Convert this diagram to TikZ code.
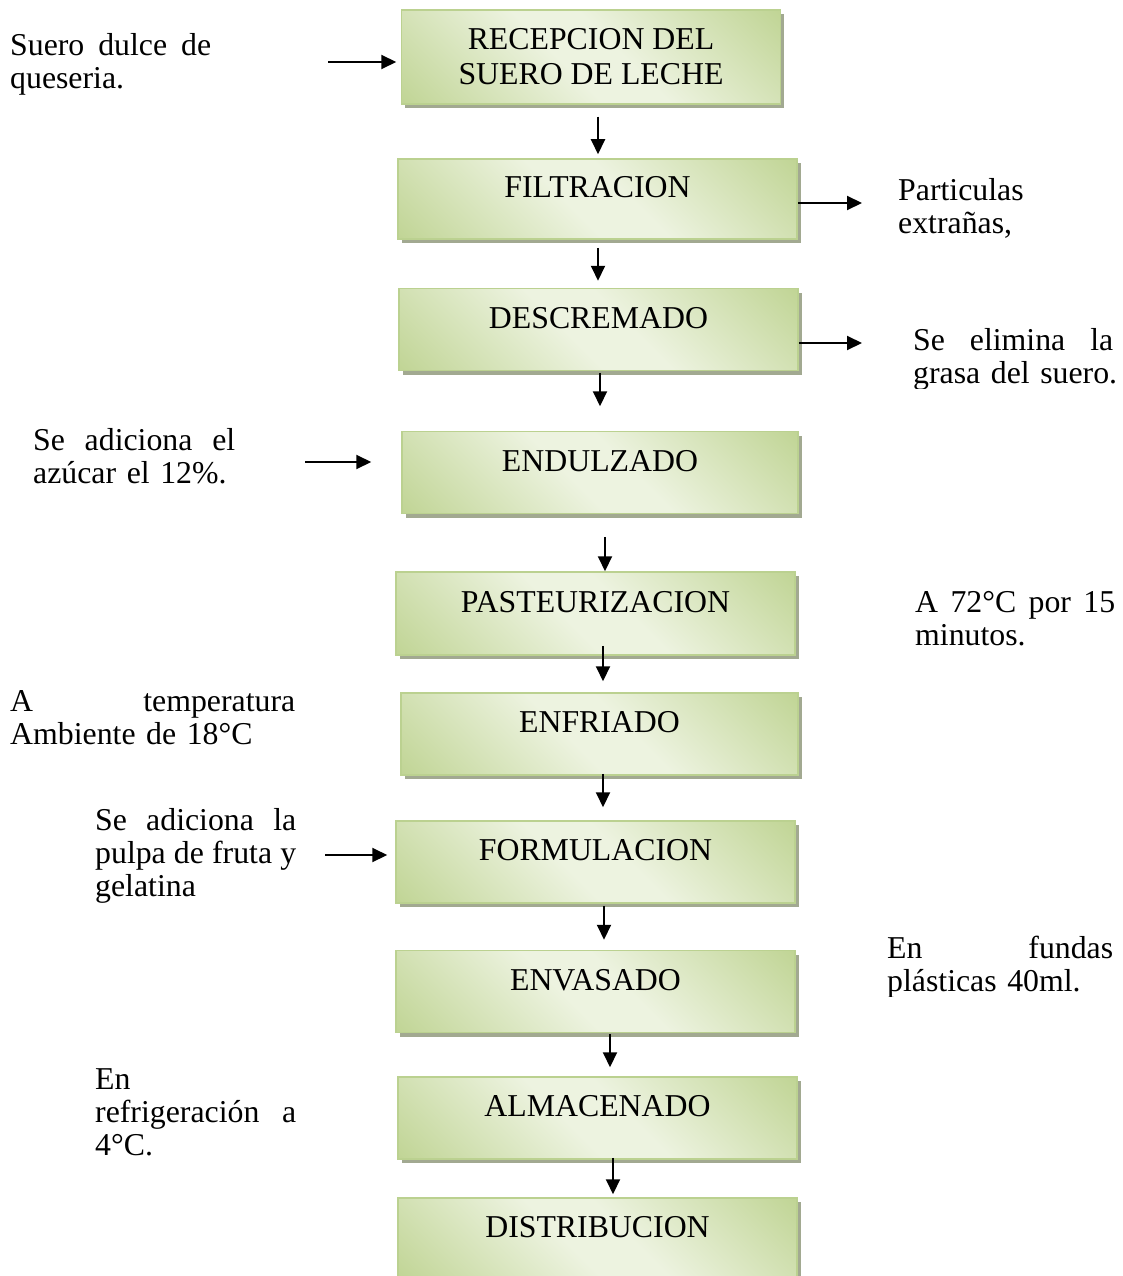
\documentclass[tikz,border=0pt]{standalone}
\usepackage{fontspec}
\setmainfont{Liberation Serif}
\usetikzlibrary{arrows.meta,shadows}

\definecolor{boxdark}{HTML}{C1D596}
\definecolor{boxlight}{HTML}{EDF3E0}
\definecolor{boxline}{HTML}{BBD190}
\definecolor{boxshadow}{HTML}{A2A991}
\pgfdeclarehorizontalshading{greenstep}{100bp}{color(0bp)=(boxdark); color(15bp)=(boxdark); color(45bp)=(boxlight); color(55bp)=(boxlight); color(85bp)=(boxdark); color(100bp)=(boxdark)}

\tikzset{
  stepbox/.style={draw=boxline, line width=1.5pt, shading=greenstep, shading angle=45,
    drop shadow={shadow xshift=3.5pt, shadow yshift=-4pt, fill=boxshadow, opacity=1},
    minimum width=399pt, minimum height=82pt, align=center, inner sep=0pt,
    font=\fontsize{31.8}{35}\selectfont},
  stepone/.style={stepbox, text height=21pt, text depth=24pt},
  flow/.style={-{Triangle[length=15pt,width=14pt]}, line width=2pt},
  note/.style={anchor=north west, inner sep=0pt, align=left, font=\fontsize{31.8}{33}\selectfont}
}

\begin{document}
\begin{tikzpicture}[x=1pt,y=-1pt]
\useasboundingbox (0,0) rectangle (1122,1276);
% process steps
\node[stepbox, minimum width=379pt, minimum height=94pt] (recep) at (591,57) {RECEPCION DEL\\SUERO DE LECHE};
\node[stepone, minimum height=80pt] (filtr) at (597.5,199) {FILTRACION};
\node[stepone] (desc) at (598.5,329.5) {DESCREMADO};
\node[stepone, minimum width=396pt] (endul) at (600,472.5) {ENDULZADO};
\node[stepone, minimum height=83pt] (past) at (595.5,613.5) {PASTEURIZACION};
\node[stepone, minimum width=397pt] (enfri) at (599.5,734) {ENFRIADO};
\node[stepone] (formu) at (595.5,862) {FORMULACION};
\node[stepone] (envas) at (595.5,991.5) {ENVASADO};
\node[stepone] (almac) at (597.5,1118) {ALMACENADO};
\node[stepone] (distr) at (597.5,1239) {DISTRIBUCION};

% flow down
\draw[flow] ([xshift=7pt,yshift=-12pt]recep.south) -- ([xshift=.5pt,yshift=4pt]filtr.north);
\draw[flow] ([xshift=.5pt,yshift=-8pt]filtr.south) -- ([xshift=-.5pt,yshift=7pt]desc.north);
\draw[flow] ([xshift=1.5pt,yshift=-1.5pt]desc.south) -- ([yshift=24.5pt]endul.north);
\draw[flow] ([xshift=5pt,yshift=-22.5pt]endul.south) -- ([xshift=9.5pt]past.north);
\draw[flow] ([xshift=7.5pt,yshift=10pt]past.south) -- ([xshift=3.5pt,yshift=11pt]enfri.north);
\draw[flow] ([xshift=3.5pt,yshift=2pt]enfri.south) -- ([xshift=7.5pt,yshift=13pt]formu.north);
\draw[flow] ([xshift=8.5pt,yshift=-2pt]formu.south) -- ([xshift=8.5pt,yshift=10pt]envas.north);
\draw[flow] ([xshift=14.5pt,yshift=-1pt]envas.south) -- ([xshift=12.5pt,yshift=9pt]almac.north);
\draw[flow] ([xshift=15.5pt,yshift=2pt]almac.south) -- ([xshift=15.5pt,yshift=3pt]distr.north);

% inputs and outputs
\coordinate (in1) at (328,62);
\coordinate (out2) at (862,203);
\coordinate (out3) at (862,343);
\coordinate (in4) at (305,462);
\coordinate (in7) at (325,855);
\draw[flow] (in1) -- ([xshift=-4.5pt,yshift=-5pt]recep.west);
\draw[flow] ([yshift=-4pt]filtr.east) -- (out2);
\draw[flow] ([yshift=-13.5pt]desc.east) -- (out3);
\draw[flow] (in4) -- ([xshift=-30pt,yshift=10.5pt]endul.west);
\draw[flow] (in7) -- ([xshift=-8pt,yshift=7pt]formu.west);

% side notes
\node[note, text width=201pt] (suero) at (10,33) {Suero\hfill dulce\hfill de\\queseria.};
\node[note, text width=200pt] (partic) at (898,178) {Particulas\\extrañas,};
\begin{scope}
\clip (880,300) rectangle (1122,388);
\node[note, text width=200pt] (grasa) at (913,328) {Se\hfill elimina\hfill la\\\mbox{grasa del suero.}};
\end{scope}
\node[note, text width=202pt] (azucar) at (33,428) {Se\hfill adiciona\hfill el\\azúcar el 12\%.};
\node[note, text width=200pt] (temp72) at (915,591) {A\hfill 72°C\hfill por\hfill 15\\minutos.};
\node[note, text width=285pt] (temp18) at (10,690) {A\hfill temperatura\\Ambiente de 18°C};
\node[note, text width=201pt] (pulpa) at (95,808) {Se\hfill adiciona\hfill la\\pulpa\hfill de\hfill fruta\hfill y\\gelatina};
\begin{scope}
\clip (880,900) rectangle (1122,996);
\node[note, text width=226pt] (fundas) at (887,936) {En\hfill fundas\\plásticas 40ml.};
\end{scope}
\node[note, text width=201pt] (refrig) at (95,1068) {En\\refrigeración\hfill a\\4°C.};
\end{tikzpicture}
\end{document}
